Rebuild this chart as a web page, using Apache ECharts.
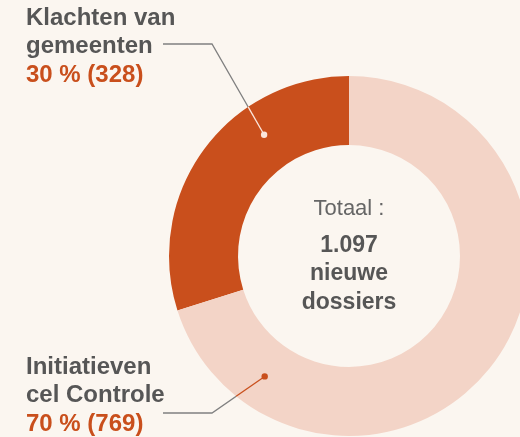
<!DOCTYPE html>
<html>
<head>
<meta charset="utf-8">
<script src="https://cdn.jsdelivr.net/npm/echarts@6/dist/echarts.min.js"></script>
<style>
  html, body { margin: 0; padding: 0; background: #fbf6f0; }
  #chart { width: 520px; height: 437px; }
</style>
</head>
<body>
<div id="chart"></div>
<script>
const names = ['Klachten van\ngemeenten', 'Initiatieven\ncel Controle'];
const values = [328, 769];
const colors = ['#c94f1c', '#f3d4c7'];
const lineInner = ['#fbe6dc', '#c94f1c'];
const totalLabel = ['Totaal :', 'nieuwe', 'dossiers'];

const FONT = '"Liberation Sans", Arial, sans-serif';
const CX = 349, CY = 256, R_IN = 111, R_OUT = 180;
// where the leader lines touch the ring (angle in degrees, radius)
const anchors = [[125, 148], [235, 147]];
const labelBox = [{x: 26, y: 4}, {x: 26, y: 353}];
const elbowY = [44, 413];

const total = values.reduce((a, b) => a + b, 0);
const fmtNum = n => String(n).replace(/\B(?=(\d{3})+(?!\d))/g, '.');

function anchorPt(i) {
  const a = anchors[i][0] * Math.PI / 180, r = anchors[i][1];
  return [CX + r * Math.cos(a), CY - r * Math.sin(a)];
}

// point where segment b->d crosses outer circle
function crossOuter(b, d) {
  const dx = d[0] - b[0], dy = d[1] - b[1];
  const fx = b[0] - CX, fy = b[1] - CY;
  const A = dx * dx + dy * dy, B = 2 * (fx * dx + fy * dy), C = fx * fx + fy * fy - R_OUT * R_OUT;
  const t = (-B - Math.sqrt(B * B - 4 * A * C)) / (2 * A);
  return [b[0] + t * dx, b[1] + t * dy];
}

const chart = echarts.init(document.getElementById('chart'));

const graphics = [];
values.forEach((v, i) => {
  const d = anchorPt(i);
  const b = [212, elbowY[i]];
  const c = crossOuter(b, d);
  graphics.push({
    type: 'line', z: 100,
    shape: {x1: c[0], y1: c[1], x2: d[0], y2: d[1]},
    style: {stroke: lineInner[i], lineWidth: 1.3}
  });
  graphics.push({
    type: 'circle', z: 101,
    shape: {cx: d[0], cy: d[1], r: 3.2},
    style: {fill: lineInner[i]}
  });
});

graphics.push({
  type: 'text', z: 100,
  x: CX, y: 186,
  style: {
    text: '{t|' + totalLabel[0] + '}\n{b|' + fmtNum(total) + '}\n{b|' + totalLabel[1] + '}\n{b|' + totalLabel[2] + '}',
    align: 'center',
    verticalAlign: 'top',
    fill: '#565656',
    rich: {
      t: {fontFamily: FONT, fontSize: 22, fill: '#666666', lineHeight: 45, align: 'center'},
      b: {fontFamily: FONT, fontSize: 23, fontWeight: 'bold', fill: '#565656', lineHeight: 28.5, align: 'center'}
    }
  }
});

chart.setOption({
  backgroundColor: '#fbf6f0',
  animation: false,
  graphic: graphics,
  series: [{
    type: 'pie',
    center: [CX, CY],
    radius: [R_IN, R_OUT],
    startAngle: 90,
    clockwise: false,
    avoidLabelOverlap: false,
    silent: true,
    data: values.map((v, i) => ({
      value: v,
      name: names[i],
      itemStyle: {color: colors[i]}
    })),
    label: {
      show: true,
      position: 'outside',
      formatter: p => '{n|' + p.name + '}\n{v|' + Math.round(p.value / total * 100) + ' % (' + p.value + ')}',
      rich: {
        n: {fontFamily: FONT, fontSize: 24, fontWeight: 'bold', color: '#565656', lineHeight: 28.5},
        v: {fontFamily: FONT, fontSize: 24, fontWeight: 'bold', color: '#c94f1c', lineHeight: 28.5}
      }
    },
    labelLine: {
      show: true,
      lineStyle: {color: '#808080', width: 1.3}
    },
    labelLayout: p => {
      const i = p.dataIndex;
      return {
        x: labelBox[i].x,
        y: labelBox[i].y,
        align: 'left',
        verticalAlign: 'top',
        labelLinePoints: [[163, elbowY[i]], [212, elbowY[i]], anchorPt(i)]
      };
    }
  }]
});
</script>
</body>
</html>
